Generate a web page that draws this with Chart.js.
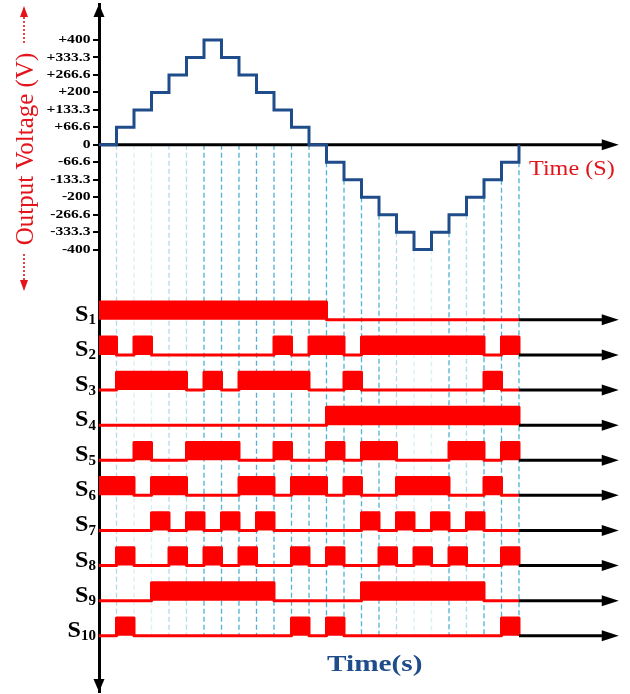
<!DOCTYPE html>
<html>
<head>
<meta charset="utf-8">
<script src="https://cdn.jsdelivr.net/npm/chart.js@4.4.1/dist/chart.umd.min.js"></script>
<style>
  html, body { margin: 0; padding: 0; background: #ffffff; }
  canvas { display: block; }
</style>
</head>
<body>
<canvas id="chart" width="630" height="694"></canvas>
<script>
// Output voltage level held during each time step (V); last entry closes the cycle
const stepLevels = [0, 66.6, 133.3, 200, 266.6, 333.3, 400, 333.3, 266.6, 200, 133.3, 66.6,
                    0, -66.6, -133.3, -200, -266.6, -333.3, -400, -333.3, -266.6, -200, -133.3, -66.6, 0];

// Voltage axis ticks and their labels
const voltTicks = [400, 333.3, 266.6, 200, 133.3, 66.6, 0, -66.6, -133.3, -200, -266.6, -333.3, -400];
const voltTickLabels = ['+400', '+333.3', '+266.6', '+200', '+133.3', '+66.6', '0',
                        '-66.6', '-133.3', '-200', '-266.6', '-333.3', '-400'];

// Switch names (drawn as S with a subscript index)
const switchIndex = ['1', '2', '3', '4', '5', '6', '7', '8', '9', '10'];

// ON intervals of each switch, in time steps [start, end)
const S1 = [[0, 13]];
const S2 = [[0, 1], [2, 3], [10, 11], [12, 14], [15, 22], [23, 24]];
const S3 = [[1, 5], [6, 7], [8, 12], [14, 15], [22, 23]];
const S4 = [[13, 24]];
const S5 = [[2, 3], [5, 8], [10, 11], [13, 14], [15, 17], [20, 22], [23, 24]];
const S6 = [[0, 2], [3, 5], [8, 10], [11, 13], [14, 15], [17, 20], [22, 23]];
const S7 = [[3, 4], [5, 6], [7, 8], [9, 10], [15, 16], [17, 18], [19, 20], [21, 22]];
const S8 = [[1, 2], [4, 5], [6, 7], [8, 9], [11, 12], [13, 14], [16, 17], [18, 19], [20, 21], [23, 24]];
const S9 = [[3, 10], [15, 22]];
const S10 = [[1, 2], [11, 12], [13, 14], [23, 24]];
const switchPulses = [S1, S2, S3, S4, S5, S6, S7, S8, S9, S10];

// ---- layout / style ----
const N_STEPS = stepLevels.length - 1;
const LANE_TOP = -668;      // S1 baseline on the vertical scale
const LANE_GAP = 134;       // distance between switch baselines
const PULSE_H = 68;         // height of an ON pulse
const LINE_END = 29.2;      // where the black arrow shafts stop
const ARROW_TIP = 29.7;     // arrow tips on the time scale
const RED = '#ff0000';
const NAVY = '#1f4c8a';
const SERIF = "'Liberation Serif', 'Times New Roman', serif";
// guide tone per step boundary 1..24 (0 faint, 1 light, 2 medium)
const guideTone = [1, 0, 0, 1, 1, 2, 2, 2, 2, 2, 2, 2, 2, 2, 2, 2, 1, 0, 0, 2, 1, 2, 2, 2];
const guideColors = ['#d9f0f7', '#aedcec', '#4fb2d2'];

const laneBase = k => LANE_TOP - k * LANE_GAP;
const lastBase = laneBase(switchPulses.length - 1);

const datasets = [];

// dashed guides at every step boundary
for (let t = 1; t <= N_STEPS; t++) {
  const top = Math.min(0, stepLevels[t - 1], stepLevels[t]);
  datasets.push({
    type: 'line', order: 6,
    data: [{ x: t, y: top }, { x: t, y: lastBase }],
    borderColor: guideColors[guideTone[t - 1]], borderWidth: 1.3,
    borderDash: [5, 3], pointRadius: 0, fill: false
  });
}

// switching signals
switchPulses.forEach((pulses, k) => {
  const base = laneBase(k);
  const pts = [];
  for (let t = 0; t < N_STEPS; t++) {
    const on = pulses.some(([a, b]) => t >= a && t < b);
    pts.push({ x: t, y: on ? base + PULSE_H : base });
  }
  pts.push({ x: N_STEPS, y: base });
  datasets.push({
    type: 'line', order: 4, data: pts, stepped: 'before',
    borderColor: RED, backgroundColor: RED, borderWidth: 3,
    borderJoinStyle: 'round', pointRadius: 0, fill: { value: base }
  });
  // black time-axis continuation of each signal
  datasets.push({
    type: 'line', order: 3,
    data: [{ x: N_STEPS, y: base }, { x: LINE_END, y: base }],
    borderColor: '#000', borderWidth: 3, pointRadius: 0, fill: false
  });
});

// voltage time axis
datasets.push({
  type: 'line', order: 2,
  data: [{ x: 0, y: 0 }, { x: LINE_END, y: 0 }],
  borderColor: '#000', borderWidth: 3, pointRadius: 0, fill: false
});

// staircase output voltage
datasets.push({
  type: 'line', order: 1,
  data: stepLevels.map((v, t) => ({ x: t, y: v })),
  stepped: 'before', borderColor: NAVY, borderWidth: 3,
  borderJoinStyle: 'miter', pointRadius: 0, fill: false
});

function arrowHead(ctx, x, y, dir, len, half) {
  ctx.beginPath();
  if (dir === 'right') {
    ctx.moveTo(x, y); ctx.lineTo(x - len, y - half); ctx.lineTo(x - len, y + half);
  } else if (dir === 'up') {
    ctx.moveTo(x, y); ctx.lineTo(x - half, y + len); ctx.lineTo(x + half, y + len);
  } else {
    ctx.moveTo(x, y); ctx.lineTo(x - half, y - len); ctx.lineTo(x + half, y - len);
  }
  ctx.closePath();
  ctx.fill();
}

function wideText(ctx, text, x, y, font, color, sx, align, baseline) {
  ctx.save();
  ctx.font = font;
  ctx.fillStyle = color;
  ctx.textAlign = 'left';
  ctx.textBaseline = baseline || 'alphabetic';
  const w = ctx.measureText(text).width * sx;
  const left = align === 'right' ? x - w : align === 'center' ? x - w / 2 : x;
  ctx.translate(left, y);
  ctx.scale(sx, 1);
  ctx.fillText(text, 0, 0);
  ctx.restore();
  return w;
}

const decorations = {
  id: 'decorations',
  afterDraw(chart) {
    const ctx = chart.ctx;
    const xs = chart.scales.x, ys = chart.scales.y;
    const area = chart.chartArea;
    const ax = area.left;

    ctx.save();
    ctx.fillStyle = '#000';
    // vertical axis arrows
    arrowHead(ctx, ax, area.top, 'up', 13, 5.5);
    arrowHead(ctx, ax, area.bottom, 'down', 13, 5.5);
    // time axis arrow
    const tipX = xs.getPixelForValue(ARROW_TIP);
    arrowHead(ctx, tipX, ys.getPixelForValue(0), 'right', 17, 5.5);
    // switch lane arrows
    switchPulses.forEach((p, k) => {
      arrowHead(ctx, tipX, ys.getPixelForValue(laneBase(k)), 'right', 17, 5.5);
    });
    ctx.restore();

    // voltage tick labels
    voltTicks.forEach((v, i) => {
      wideText(ctx, voltTickLabels[i], ax - 8.5, ys.getPixelForValue(v),
               'bold 12px ' + SERIF, '#000', 1.3, 'right', 'middle');
    });

    // switch labels S with subscript
    switchIndex.forEach((s, k) => {
      const py = ys.getPixelForValue(laneBase(k));
      const right = ax - 3;
      const wSub = wideText(ctx, s, right, py + 4.5, 'bold 15px ' + SERIF, '#000', 1.0, 'right');
      wideText(ctx, 'S', right - wSub, py + 1, 'bold 23px ' + SERIF, '#000', 1.05, 'right');
    });

    // vertical title with dotted arrows
    ctx.save();
    ctx.translate(33, 149);
    ctx.rotate(-Math.PI / 2);
    ctx.font = '25px ' + SERIF;
    ctx.fillStyle = '#e3141b';
    ctx.textAlign = 'center';
    ctx.textBaseline = 'alphabetic';
    ctx.fillText('Output Voltage (V)', 0, 0);
    ctx.restore();

    ctx.save();
    ctx.strokeStyle = '#e3141b';
    ctx.fillStyle = '#e3141b';
    ctx.lineWidth = 1.6;
    ctx.setLineDash([2, 2]);
    ctx.beginPath();
    ctx.moveTo(24, 43); ctx.lineTo(24, 17);
    ctx.moveTo(24, 254); ctx.lineTo(24, 280);
    ctx.stroke();
    ctx.setLineDash([]);
    arrowHead(ctx, 24, 6, 'up', 11, 4);
    arrowHead(ctx, 24, 291, 'down', 11, 4);
    ctx.restore();

    // time labels
    wideText(ctx, 'Time (S)', 529, 175, '21px ' + SERIF, '#e3141b', 1.15, 'left');
    wideText(ctx, 'Time(s)', 327, 671, 'bold 24px ' + SERIF, NAVY, 1.22, 'left');
  }
};

new Chart(document.getElementById('chart'), {
  type: 'line',
  data: { datasets },
  options: {
    responsive: false,
    animation: false,
    events: [],
    layout: { padding: { left: 0, right: 0, top: 4, bottom: 2 } },
    plugins: { legend: { display: false }, tooltip: { enabled: false }, title: { display: false } },
    scales: {
      x: { type: 'linear', min: 0, max: 30.343, display: false },
      y: {
        type: 'linear', min: -2088.5, max: 537.4, position: 'left', z: 1,
        afterFit: s => { s.width = 99; },
        afterBuildTicks: s => { s.ticks = voltTicks.map(v => ({ value: v })); },
        ticks: { display: false },
        grid: { display: true, drawOnChartArea: false, drawTicks: true,
                tickLength: 6, lineWidth: 2, tickWidth: 2, color: '#000', tickColor: '#000' },
        border: { display: true, color: '#000', width: 3 }
      }
    }
  },
  plugins: [decorations]
});
</script>
</body>
</html>
